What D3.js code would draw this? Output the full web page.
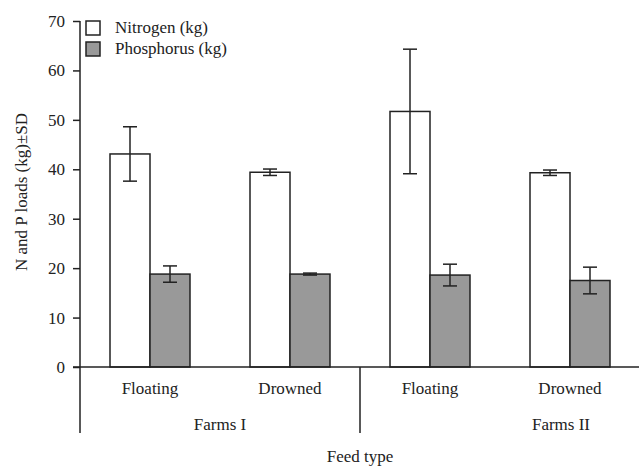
<!DOCTYPE html>
<html>
<head>
<meta charset="utf-8">
<script src="https://cdn.jsdelivr.net/npm/d3@7"></script>
<style>
body { margin: 0; background: #fff; }
</style>
</head>
<body>
<script>
const w = 639;
const h = 466;
const font = "'Liberation Serif', 'Times New Roman', Times, 'DejaVu Serif', serif";

// data
const farms = ['Farms I', 'Farms I', 'Farms II', 'Farms II'];
const feedTypes = ['Floating', 'Drowned', 'Floating', 'Drowned'];
const series = ['Nitrogen (kg)', 'Phosphorus (kg)'];
const nitrogen = [43.1, 39.4, 51.7, 39.3];
const nitrogenSD = [5.5, 0.65, 12.6, 0.55];
const phosphorus = [18.8, 18.8, 18.6, 17.5];
const phosphorusSD = [1.65, 0.2, 2.2, 2.7];
const yTicks = [0, 10, 20, 30, 40, 50, 60, 70];

const keys = d3.range(feedTypes.length).map(i => 'g' + i);
const data = keys.map((k, i) => ({
  key: k,
  values: [
    {s: series[0], v: nitrogen[i], sd: nitrogenSD[i]},
    {s: series[1], v: phosphorus[i], sd: phosphorusSD[i]}
  ]
}));

const svg = d3.select('body').append('svg').attr('width', w).attr('height', h)
  .style('font-family', font);

const x0 = d3.scaleBand().domain(keys).range([80, 640]).paddingInner(3 / 7).paddingOuter(1.5 / 7);
const x1 = d3.scaleBand().domain(series).range([0, x0.bandwidth()]);
const y = d3.scaleLinear().domain([0, 70]).range([367, 21]);
const fill = d3.scaleOrdinal().domain(series).range(['#fff', '#999']);
const ink = '#222';

// bars
const grp = svg.selectAll('.grp').data(data).enter().append('g')
  .attr('transform', d => 'translate(' + x0(d.key) + ',0)');

grp.selectAll('rect').data(d => d.values).enter().append('rect')
  .attr('x', d => x1(d.s))
  .attr('y', d => y(d.v))
  .attr('width', x1.bandwidth())
  .attr('height', d => y(0) - y(d.v))
  .attr('fill', d => fill(d.s))
  .attr('stroke', ink)
  .attr('stroke-width', 1.5);

// error bars
const eb = grp.selectAll('.err').data(d => d.values).enter().append('g')
  .attr('stroke', ink).attr('stroke-width', 1.5);
eb.append('line')
  .attr('x1', d => x1(d.s) + x1.bandwidth() / 2).attr('x2', d => x1(d.s) + x1.bandwidth() / 2)
  .attr('y1', d => y(d.v + d.sd)).attr('y2', d => y(d.v - d.sd));
eb.append('line')
  .attr('x1', d => x1(d.s) + x1.bandwidth() / 2 - 7).attr('x2', d => x1(d.s) + x1.bandwidth() / 2 + 7)
  .attr('y1', d => y(d.v + d.sd)).attr('y2', d => y(d.v + d.sd));
eb.append('line')
  .attr('x1', d => x1(d.s) + x1.bandwidth() / 2 - 7).attr('x2', d => x1(d.s) + x1.bandwidth() / 2 + 7)
  .attr('y1', d => y(d.v - d.sd)).attr('y2', d => y(d.v - d.sd));

// y axis
const yAxis = svg.append('g').attr('transform', 'translate(80,0)')
  .call(d3.axisLeft(y).tickValues(yTicks).tickSize(7).tickPadding(8));
yAxis.attr('font-family', font).attr('font-size', 17);
yAxis.select('.domain').remove();
yAxis.selectAll('line').attr('stroke', ink).attr('stroke-width', 1.5);
yAxis.selectAll('text').attr('fill', ink);
svg.append('line').attr('x1', 80).attr('x2', 80).attr('y1', y(70)).attr('y2', 433)
  .attr('stroke', ink).attr('stroke-width', 1.5);

// x baseline and farm divider
svg.append('line').attr('x1', 73).attr('x2', w).attr('y1', y(0)).attr('y2', y(0))
  .attr('stroke', ink).attr('stroke-width', 1.5);
svg.append('line').attr('x1', 360).attr('x2', 360).attr('y1', y(0)).attr('y2', 433)
  .attr('stroke', ink).attr('stroke-width', 1.5);

function label(x, y, t) {
  return svg.append('text').attr('x', x).attr('y', y).attr('text-anchor', 'middle')
    .attr('font-family', font).attr('font-size', 17).attr('fill', ink).text(t);
}

// category labels
keys.forEach((k, i) => label(x0(k) + x0.bandwidth() / 2, 394, feedTypes[i]));
label(220, 430, farms[0]);
label(561, 430, farms[2]);
label(360, 462, 'Feed type');

label(0, 0, 'N and P loads (kg)±SD')
  .attr('transform', 'translate(27,192) rotate(-90)');

// legend
const leg = svg.selectAll('.leg').data(series).enter().append('g')
  .attr('transform', (d, i) => 'translate(86,' + (21 + i * 21) + ')');
leg.append('rect').attr('width', 14).attr('height', 14)
  .attr('fill', d => fill(d)).attr('stroke', ink).attr('stroke-width', 1.5);
leg.append('text').attr('x', 29).attr('y', 12)
  .attr('font-family', font).attr('font-size', 17).attr('fill', ink).text(d => d);
</script>
</body>
</html>
